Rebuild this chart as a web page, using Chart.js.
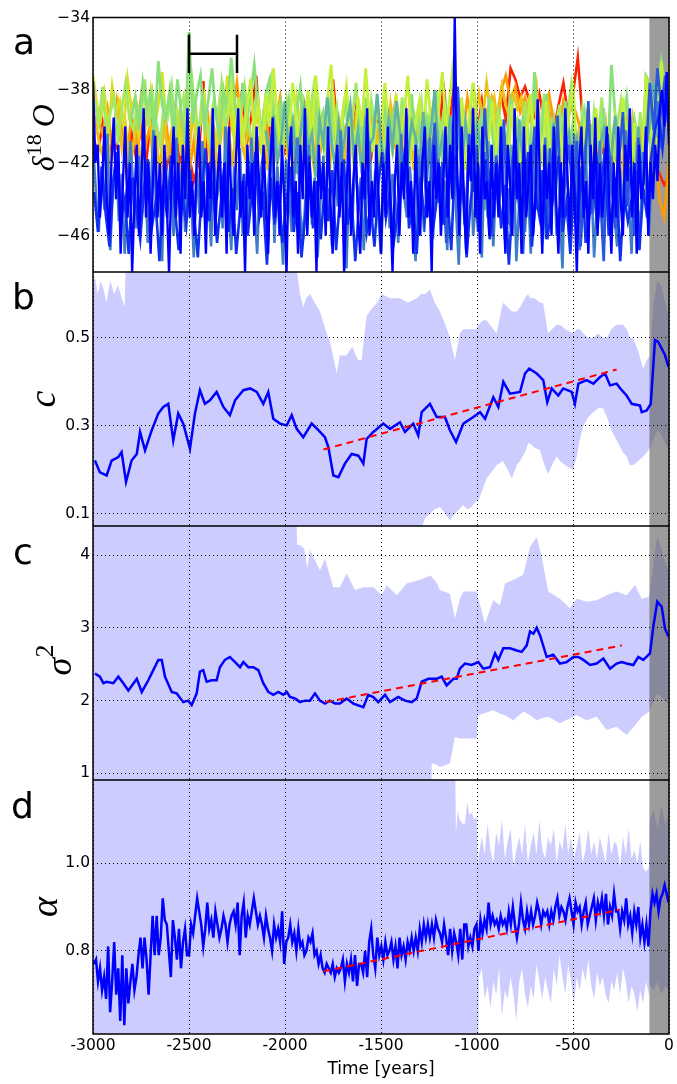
<!DOCTYPE html>
<html>
<head>
<meta charset="utf-8">
<title>Ice core indicators</title>
<script src="https://cdn.jsdelivr.net/npm/chart.js@4.4.1/dist/chart.umd.min.js"></script>
<style>
  html, body { margin: 0; padding: 0; background: #fff; }
  #page { position: relative; width: 677px; height: 1084px; overflow: hidden; }
  #page canvas { position: absolute; left: 0; }
  .panel-letter { position: absolute; font-family: 'DejaVu Sans'; font-size: 36px; line-height: 1; color: #000; }
</style>
</head>
<body>
<div id="page">
  <canvas id="pa" width="677" height="272" style="top:0px"></canvas>
  <canvas id="pb" width="677" height="254" style="top:272px"></canvas>
  <canvas id="pc" width="677" height="254" style="top:526px"></canvas>
  <canvas id="pd" width="677" height="304" style="top:780px"></canvas>
  <div class="panel-letter" style="left:13px;top:24px">a</div>
  <div class="panel-letter" style="left:12px;top:279px">b</div>
  <div class="panel-letter" style="left:13px;top:534px">c</div>
  <div class="panel-letter" style="left:11px;top:788px">d</div>
</div>
<script>
// x axis (years) and the shaded recent period
const xMin = -3000, xMax = 0, xStep = 500;
const grayStart = -102;

// ---- panel a: d18O records (start year, step in years, values) ----
const aRedStart = -3000, aRedStep = 25;
const aRed = [
  -40.5, -41.5, -39.8, -42, -40.8, -41.2, -39.5, -42.5, -40.2, -41.8,
  -40, -42.2, -39.6, -41, -40.4, -42.8, -41.3, -39.2, -42, -40.6,
  -41.5, -43, -42, -37.5, -43.5, -40.8, -42.4, -39, -41.6, -37.8,
  -40.2, -38.2, -41, -39.4, -37.2, -40.6, -41.8, -39.6, -40.4, -38.6,
  -41.2, -39.8, -40.6, -42, -39.2, -40.8, -38.8, -41.4, -39.6, -40.2,
  -37.4, -40.4, -41.6, -39.8, -40.8, -38.6, -41.2, -40, -41.6, -39.4,
  -40.6, -42, -39.4, -41, -40.2, -38.8, -41.4, -40.4, -39.6, -41.8,
  -40.2, -39, -41.2, -37.6, -40.4, -38.2, -41, -39.8, -40.6, -39.2,
  -40.4, -38.6, -41, -39.4, -40.6, -38.2, -39.6, -36.8, -37.4, -38.4,
  -37.8, -38.6, -39.4, -38.2, -39.8, -39.2, -40.2, -38.8, -37.6, -39.4,
  -38.2, -36.2, -39.6, -40.4, -41, -39.8, -41.4, -40.6, -42, -41.2,
  -40.4, -41.8, -40.6, -42.4, -41, -39.8, -40.4, -42, -42.6, -43.2,
  -42.8
];
const aOrangeStart = -3000, aOrangeStep = 25;
const aOrange = [
  -37.8, -39.6, -40.4, -39, -41.2, -38.6, -40, -42, -39.4, -40.8,
  -38.4, -41, -39.8, -40.6, -42.4, -39.2, -41.6, -40.2, -43, -41.4,
  -42.6, -40.8, -43.2, -41.4, -39.6, -42, -40.4, -38.2, -41, -39.6,
  -37.6, -40.2, -39, -41.4, -38.8, -40.6, -39.4, -41.8, -40, -38.4,
  -40.8, -39.4, -41.6, -40.2, -38.8, -40.6, -39.2, -41.2, -40, -39.6,
  -38.2, -40.6, -39.8, -41.2, -40.4, -39, -40.8, -41.6, -39.4, -40.2,
  -41, -39.6, -40.4, -38.6, -40.8, -41.4, -39.8, -40.6, -39.2, -41.2,
  -40, -38.8, -40.6, -39.4, -41, -40.2, -39.6, -40.8, -38.4, -40,
  -39.6, -40.8, -39.2, -38.4, -40.2, -38, -37.2, -38.6, -37.8, -39.2,
  -38.4, -39.6, -38.8, -40.2, -39, -38.2, -39.8, -40.4, -38.6, -39.4,
  -38.8, -39.6, -40.6, -39.2, -40.8, -41.4, -40, -41.2, -40.6, -41.8,
  -40.8, -39.6, -41.4, -40.2, -42, -41, -40.4, -39.8, -44, -45,
  -42
];
const aGoldStart = -2990, aGoldStep = 20;
const aGold = [
  -39.4, -40.8, -41.6, -39.8, -42.2, -40.4, -38.8, -41.2, -40, -42.6,
  -41, -39.6, -42.4, -40.2, -38.6, -41.8, -40.6, -43, -39.8, -41.4,
  -40.2, -42, -39.2, -41.6, -43.2, -40.4, -38.4, -41, -42.6, -39.6,
  -41.8, -40, -42.8, -39.4, -41.2, -40.6, -42.2, -38.8, -40.8, -41.6,
  -39.6, -42, -40.4, -41.2, -39, -42.4, -40.8, -41.6, -39.8, -40.2,
  -41.4, -39.4, -42.6, -40.2, -41, -38.6, -40.8, -42.2, -39.6, -41.2,
  -40.4, -42.8, -39.8, -41.4, -40, -42, -39.2, -40.8, -41.8, -39.6,
  -42.2, -40.6, -41.2, -39.4, -42.6, -40.2, -41.6, -38.8, -40.4, -42,
  -39.8, -41.4, -40, -42.4, -39.2, -41, -43, -40.6, -39.4, -41.8,
  -40.4, -41.6, -39.8, -42.2, -40.6, -41.2, -39.4, -42, -40.8, -39.6,
  -38.2, -39.6, -37.6, -39.2, -38.4, -40, -37.8, -38.8, -39.6, -38.2,
  -39, -38.4, -40.2, -38.6, -39.4, -37.8, -40.4, -39.2, -38.6, -40.8,
  -41.6, -40.2, -42.2, -39.6, -41, -42.6, -40.4, -41.8, -39.4, -42,
  -40.6, -42.4, -41, -39.8, -42.8, -40.4, -41.6, -43.2, -40, -41.4,
  -39.6, -41.8, -40.2, -42, -44.6, -40.6, -41.4, -39, -40.4, -39.8
];
const aYellowStart = -3000, aYellowStep = 20;
const aYellow = [
  -37.2, -38.8, -39.6, -38.2, -40.4, -37.8, -39.2, -38.6, -40, -37.4,
  -39, -38.4, -40.6, -37.6, -39.4, -38, -40.2, -38.8, -37, -39.6,
  -38.2, -40.8, -39.4, -41.6, -38.6, -40.2, -39, -41.2, -39.8, -38.4,
  -40.6, -39.2, -41.4, -38.8, -40, -37.2, -39.6, -41, -38.4, -40.4,
  -39, -37.8, -40.2, -38.6, -41, -39.4, -38, -40.6, -39.2, -38.8,
  -40.4, -39.6, -41.2, -38.4, -40, -39.2, -40.8, -38.8, -39.8, -41,
  -39.4, -40.2, -38.6, -40.8, -39.6, -41.4, -40, -39.2, -40.6, -39.8,
  -40.2
];
const aLimeStart = -2990, aLimeStep = 20;
const aLime = [
  -38.6, -39.8, -37.8, -40.4, -39.2, -38.4, -40.8, -39, -37.6, -39.6,
  -40.2, -38.8, -39.4, -37.4, -40, -38.2, -39.8, -41, -38.6, -39.4,
  -37.8, -40.6, -39.2, -38.4, -40.2, -36.8, -39, -40.4, -38.2, -39.6,
  -40.8, -38.6, -39.4, -37.6, -40, -39.2, -38, -40.6, -39.4, -37.8,
  -39.8, -41, -38.4, -39.6, -40.4, -38.8, -37.4, -40.2, -39, -41.2,
  -38.6, -40, -39.4, -41.4, -38.2, -40.6, -39.2, -37.8, -40.8, -39.6,
  -41.2, -38.8, -40.4, -39, -41.6, -38.4, -40.2, -39.6, -37.6, -40.8,
  -39.4, -41.4, -38.6, -40.2, -39.8, -42, -38.8, -40.6, -39.2, -41,
  -38.4, -40.6, -41.8, -39.2, -40, -38.6, -41.2, -39.6, -40.8, -38,
  -40.4, -39, -41.6, -40.2, -38.8, -41, -39.4, -42.2, -40, -38.6,
  -41.4, -39.8, -40.6, -38.4, -41.8, -39.2, -40.4, -42, -38.8, -40.2,
  -39.6, -41.2, -38.6, -40.8, -42.4, -39.4, -40, -38.2, -41.6, -39.8,
  -40.6, -38.8, -41.4, -39.6, -37.8, -40.2, -41.8, -39, -40.4, -42,
  -39.2, -40.8, -38.4, -41.2, -39.8, -42.2, -40, -38.6, -41, -39.4,
  -40.6, -42.4, -39.2, -40.8, -38.2, -41.4, -39.6, -37.8, -38.6, -39.8
];
const aGreenStart = -2800, aGreenStep = 20;
const aGreen = [
  -39.6, -38.4, -40.2, -37.6, -39, -38.2, -40.6, -36.4, -38.8, -39.6,
  -38, -40.4, -37.4, -39.2, -41, -34.8, -39.8, -38.2, -37.2, -40,
  -38.6, -36.8, -39.4, -40.6, -38, -39.2, -36.2, -38.8, -40.2, -37.6,
  -39.8, -38.4, -36.6, -39, -40.4, -38.2, -37.4, -39.6, -41, -38.8,
  -40.2, -38.6, -41.4, -39.2, -37.8, -40.8, -39.4, -41.6, -38.4, -40,
  -39.2, -41, -38.6, -40.4, -42, -39.6, -38.2, -40.8, -41.6, -39,
  -40.6, -38.4, -41.2, -39.8, -42.4, -40.2, -38.8, -41, -39.4, -40.6,
  -41.8, -39.2, -40.4, -38.2, -41.6, -40, -42.2, -39.6, -40.8, -38.6,
  -40.4, -41.8, -39, -40.6, -42, -38.4, -40.2, -41.4, -39.6, -37.6,
  -40.8, -39.4, -41.6, -38.8, -40.2, -42.4, -39.6, -41, -40.4, -38.6,
  -40, -41.8, -39.4, -42.2, -40.6, -37, -41.4, -40.2, -38.2, -41,
  -39.6, -42, -40.8, -38.6, -41.2, -39.8, -42.6, -40.4, -39.2, -41.6,
  -40, -40.2, -41.4, -39, -42, -36.6, -39.4, -41.8, -40, -38.4,
  -41.2, -39.6, -40.8, -42.2, -37.2, -37.6, -40.4, -38.2, -36.4, -37.8,
  -39
];
const aYGreenStart = -2300, aYGreenStep = 20;
const aYGreen = [
  -39.4, -37.8, -40.6, -38.4, -41, -39.2, -37.4, -40.2, -38.8, -41.6,
  -38.2, -40, -36.8, -39.6, -41.4, -38.6, -40.8, -37.6, -39.8, -42,
  -40.4, -38, -41.2, -37.2, -39.4, -40.8, -38.6, -36.6, -40, -41.8,
  -39.2, -37.8, -40.6, -42.2, -38.4, -40, -36.8, -39.6, -41.4, -38.8,
  -40.4, -37.6, -39.8, -41.6, -38.2, -40.6, -39.4, -37.2, -41, -39.8,
  -38.6, -40.8, -37.4, -39.6, -42, -38.8, -37, -40.4, -38.2, -36.2,
  -40.6, -38.4, -42.4, -39.2, -37.6, -41, -43.8, -39.6, -40.8, -38.6,
  -41.2, -39.6, -40.4, -42.6, -38.8, -41.4, -39.8, -44, -40.2, -38.2,
  -41.6, -40, -42.2, -38.6, -41, -43.4, -39.6, -40.8, -42.8, -39.2,
  -37.8, -41.4, -43, -39.8, -40.6, -42.4, -39, -41.2, -44.4, -40.2,
  -42, -39.6, -41.4, -38.4, -40.8, -43.2, -39.8, -41.6, -42.4, -37.2,
  -40.6, -38.4, -41.2, -36.4, -39.8, -38.2
];
const aTealStart = -2100, aTealStep = 20;
const aTeal = [
  -40.2, -41.6, -39.4, -42, -40.8, -38.6, -41.4, -39.8, -42.6, -40.4,
  -39, -41.2, -40.4, -42.8, -39.6, -41, -38.4, -40.6, -42.2, -39.8,
  -41.4, -40, -38.8, -41.8, -40.2, -42.6, -39.4, -41, -40.6, -38.2,
  -40.8, -42.4, -39.6, -41.2, -38.6, -40.4, -43, -41.6, -39.8, -40.6,
  -42, -39.2, -41.4, -40.2, -38, -41.8, -40.6, -42.8, -39.4, -41,
  -40.4, -42.2, -39.8, -41.6, -43.4, -40, -41.2, -44.6, -40.8, -42.4,
  -41.8, -43.6, -40.4, -42.8, -41, -44.2, -39.6, -42, -43.8, -41.2,
  -40.6, -42.4, -44, -41.2, -43.2, -39.8, -42.6, -45, -41.6, -40.4,
  -42.2, -40.8, -43.6, -41.4, -39.6, -42.8, -44.6, -41, -40.2, -43.4,
  -41.6, -39.4, -42.4, -44, -40.8, -41.8, -43.2, -40, -42.6, -41.4,
  -39.8, -37.6, -40.6, -38.4, -39.2, -40
];
const aSteelStart = -3000, aSteelStep = 15;
const aSteel = [
  -41, -43.6, -45.8, -42.2, -44.6, -40.4, -46.8, -43, -41.8, -45.2,
  -42.6, -47, -44, -40.8, -43.4, -45.6, -41.6, -44.8, -42, -46.4,
  -43.8, -40.2, -45, -42.8, -47.4, -41.4, -44.2, -43, -46, -40.6,
  -44.4, -42, -45.8, -41, -43.6, -47.2, -42.4, -44.8, -40.8, -45.4,
  -43.2, -46.6, -41.8, -44, -42.6, -45.6, -40, -43.8, -46.8, -42.2,
  -44.6, -41.2, -46, -43.4, -45, -40.6, -44.2, -47, -42.8, -41.6,
  -45.2, -43, -40.4, -46.4, -42.2, -44.6, -47.6, -41.8, -43.6, -45.8,
  -42.4, -40.6, -44.8, -46.2, -43.2, -41, -45.4, -42.8, -47.2, -44,
  -41.6, -45, -43.4, -46.6, -42, -44.4, -40.2, -43.8, -47.8, -42.6,
  -45.6, -41.4, -44.2, -42.8, -46.8, -43.6, -40.8, -45.2, -42.4, -44.8,
  -47, -43, -41.2, -45.6, -42.6, -44, -46.4, -40.4, -43.8, -45,
  -42.2, -44.6, -47.4, -41.6, -43.4, -45.8, -42.8, -40.6, -46.2, -43.6,
  -41.8, -45.2, -43, -46.8, -42.4, -39.8, -44.4, -47.6, -42, -45.4,
  -43.2, -40.8, -46, -44, -42.2, -47.2, -41.4, -45, -43.6, -46.6,
  -42.6, -44.8, -40.2, -46.2, -43.4, -45.6, -41.6, -47.4, -44.2, -42,
  -45.8, -43, -47, -41.2, -44.6, -42.4, -46.4, -40.6, -45.2, -43.8,
  -42.2, -46, -44.4, -47.8, -41.8, -43.6, -45.4, -40.4, -44, -46.8,
  -43.2, -41, -45.6, -42.8, -47.2, -44.2, -40.8, -46.2, -43, -45,
  -41.6, -44.8, -46.6, -42.4, -45.2, -40.2, -43.8, -47, -42.2, -44.4,
  -45.6, -41.4, -43.2, -46, -42.6, -40.4, -38.6, -41.2, -39.4, -37.8,
  -40.6
];
const aRoyalStart = -1300, aRoyalStep = 20;
const aRoyal = [
  -43.4, -41.2, -45, -42.6, -39.8, -44.2, -42, -46.4, -41.4, -43.8,
  -37.8, -42.6, -45.2, -40.4, -43.6, -41, -44.8, -39, -42.4, -46,
  -41.6, -43.8, -39.6, -45.4, -42.2, -40.6, -44, -47, -41.8, -43.2,
  -40, -44.6, -42.4, -46.2, -41.2, -43.8, -39.4, -45, -42.8, -41,
  -44.2, -40.8, -46.6, -42.6, -38.6, -44.8, -41.4, -43.4, -47.4, -40.4,
  -43, -45.6, -41.8, -39.2, -44.4, -42.2, -46, -40.6, -43.6, -41.6,
  -37.6, -40.2, -36.8, -39, -37.2, -40.4
];
const aNavyStart = -2994, aNavyStep = 20;
const aNavy = [
  -43.6, -45.8, -42.2, -44.8, -46.6, -43, -41.4, -45.2, -44, -47,
  -42.8, -44.6, -46.2, -43.4, -41.8, -45.6, -44.2, -47.4, -43.2, -45,
  -41.6, -44.4, -46.8, -43.8, -45.4, -42.4, -44.8, -47.2, -43.6, -41.2,
  -45.2, -43, -46.4, -44.2, -42, -45.8, -43.4, -47, -44.6, -42.6,
  -46, -43.8, -41.4, -45, -44, -47.6, -42.8, -45.4, -43.2, -46.4,
  -44.4, -42.2, -45.8, -43.6, -47.2, -44.8, -41.6, -45.6, -43, -46.2,
  -43.4, -45.2, -42.4, -46.8, -44, -41.8, -45.4, -43.8, -47.4, -44.2,
  -42.6, -45.8, -44.4, -46.6, -43.2, -41.4, -45, -43.6, -46.4, -44.8,
  -43, -41.2, -45.6, -44, -47, -42.8, -45.2, -43.4, -46, -44.4,
  -42.2, -45.4, -43.8, -46.8, -41.6, -44.6, -43, -47.2, -44.2, -42.4,
  -45.8, -43.6, -41.8, -46.2, -44.4, -42.6, -45.6, -43.2, -47.6, -44,
  -42.8, -45.2, -44, -41.4, -46.6, -43.8, -45, -42.4, -46.2, -44.6,
  -43.4, -41.6, -45.8, -44.2, -47, -43, -45.4, -42.2, -46.4, -44.8,
  -42.6, -45.6, -43.6, -41.2, -46, -44.4, -42.8, -47.4, -43.8, -45.2,
  -44, -42.4, -46.8, -43.4, -45, -41.8, -40.2, -39.4, -41.2, -38.8
];
const aBlueStart = -3000, aBlueStep = 12;
const aBlue = [
  -37.5, -42, -41, -45, -43, -40, -44, -46, -42, -39.5, -44, -41, -47, -43, -40, -45, -42, -48, -44, -41, -46, -43, -39, -45, -42,
  -47, -43, -40.5, -45, -42, -46, -41, -44, -48, -43, -40, -45, -42, -47, -41, -44, -39, -45, -43, -46, -42, -40, -45, -43, -47,
  -42, -44, -39, -46, -43, -41, -45, -42, -47, -40, -44, -46, -42, -39, -45, -43, -48, -41, -44, -42, -46, -40, -43, -45, -41,
  -44, -47, -42, -39.5, -45, -43, -46, -41, -44, -48, -42, -40, -45, -43, -47, -41, -44, -39, -46, -42, -45, -43, -48, -41, -44,
  -42, -46, -40, -44, -47, -43, -41, -45, -42, -48, -44, -40, -46, -43, -41, -45, -47, -42, -44, -39, -46, -43, -45, -41, -44,
  -47, -42, -45, -40, -44, -48, -43, -41, -46, -42, -44, -39, -45, -43, -47, -41, -44, -46, -42, -40, -45, -43, -48, -41, -44,
  -42, -46, -43, -40, -45, -41, -44, -34, -42, -46, -40, -44, -47, -41, -43, -39, -45, -42, -47, -40, -44, -43, -46, -41, -45,
  -42, -45, -40, -44, -47, -41, -43, -46, -39, -44, -42, -47, -40, -45, -43, -41, -46, -44, -38.5, -43, -47, -41, -44, -42, -46,
  -40, -44, -47, -42, -45, -39, -43, -46, -41, -44, -48, -42, -40, -45, -43, -47, -41, -44, -39.5, -46, -42, -45, -43, -40, -44,
  -47, -42, -45, -40, -44, -46, -41, -43, -39, -45, -42, -47, -41, -44, -43, -40, -46, -42, -44, -41, -43, -39, -38, -40, -37,
  -41
];
// scale bar drawn in panel a
const barYears = [-2500, -2250];
const barLevel = -36, barTop = -34.95, barBottom = -37.05;

// ---- panel b: c ----
const bLineYears = [-2990, -2964, -2929, -2903, -2868, -2851, -2828, -2799, -2772, -2755, -2729, -2694, -2660, -2634, -2608, -2582, -2556, -2530, -2495, -2469, -2443, -2417, -2391, -2356, -2321, -2287, -2260, -2217, -2182, -2147, -2113, -2087, -2061, -2026, -1991, -1965, -1939, -1905, -1861, -1826, -1792, -1774, -1748, -1722, -1688, -1653, -1618, -1592, -1575, -1540, -1488, -1453, -1401, -1375, -1332, -1306, -1288, -1245, -1210, -1167, -1141, -1109, -1071, -1019, -984, -958, -915, -889, -863, -828, -776, -750, -728, -689, -655, -634, -611, -577, -551, -507, -490, -472, -429, -394, -359, -333, -307, -273, -246, -221, -194, -151, -142, -116, -95, -73, -56, -21, -3];
const bLine = [0.221, 0.194, 0.187, 0.221, 0.229, 0.24, 0.172, 0.221, 0.236, 0.286, 0.244, 0.29, 0.328, 0.343, 0.35, 0.267, 0.328, 0.305, 0.248, 0.328, 0.381, 0.35, 0.358, 0.377, 0.343, 0.324, 0.358, 0.381, 0.385, 0.377, 0.35, 0.377, 0.316, 0.305, 0.301, 0.324, 0.293, 0.274, 0.305, 0.29, 0.274, 0.251, 0.187, 0.183, 0.214, 0.236, 0.232, 0.214, 0.27, 0.286, 0.305, 0.293, 0.308, 0.286, 0.305, 0.278, 0.331, 0.35, 0.32, 0.32, 0.29, 0.263, 0.305, 0.32, 0.331, 0.316, 0.365, 0.343, 0.4, 0.373, 0.377, 0.419, 0.43, 0.419, 0.404, 0.354, 0.385, 0.369, 0.385, 0.377, 0.35, 0.396, 0.404, 0.396, 0.411, 0.419, 0.392, 0.396, 0.381, 0.369, 0.35, 0.346, 0.331, 0.335, 0.35, 0.495, 0.491, 0.461, 0.434];
const bTrendYears = [-1800, -273];
const bTrend = [0.246, 0.428];
const bEnvYears = [-3000, -2990, -2975, -2960, -2945, -2930, -2910, -2890, -2870, -2850, -2835, -2823, -1945, -1940, -1922, -1905, -1890, -1870, -1845, -1818, -1790, -1766, -1745, -1731, -1714, -1680, -1650, -1620, -1601, -1575, -1542, -1520, -1496, -1453, -1401, -1360, -1314, -1290, -1288, -1270, -1245, -1220, -1193, -1165, -1141, -1115, -1089, -1073, -1050, -1028, -1002, -993, -967, -950, -915, -898, -865, -840, -819, -793, -776, -750, -734, -724, -700, -672, -656, -630, -610, -585, -568, -540, -500, -480, -464, -446, -420, -396, -370, -344, -323, -300, -276, -240, -220, -203, -188, -160, -135, -115, -99, -80, -62, -40, -20, -5, 0];
const bUpper = [0.62, 0.64, 0.60, 0.63, 0.61, 0.58, 0.63, 0.60, 0.62, 0.59, 0.57, 0.8, 0.8, 0.66, 0.60, 0.57, 0.59, 0.60, 0.58, 0.56, 0.52, 0.49, 0.45, 0.42, 0.46, 0.46, 0.48, 0.45, 0.45, 0.55, 0.57, 0.58, 0.60, 0.59, 0.59, 0.58, 0.59, 0.60, 0.60, 0.60, 0.61, 0.58, 0.56, 0.53, 0.50, 0.45, 0.51, 0.52, 0.52, 0.52, 0.52, 0.53, 0.54, 0.54, 0.52, 0.51, 0.58, 0.57, 0.56, 0.56, 0.57, 0.59, 0.60, 0.59, 0.59, 0.58, 0.58, 0.51, 0.52, 0.53, 0.53, 0.52, 0.51, 0.52, 0.52, 0.51, 0.50, 0.50, 0.51, 0.50, 0.50, 0.52, 0.53, 0.53, 0.52, 0.50, 0.50, 0.47, 0.43, 0.45, 0.46, 0.58, 0.63, 0.62, 0.58, 0.56, 0.55];
const bLower = [0, 0, 0, 0, 0, 0, 0, 0, 0, 0, 0, 0, 0, 0, 0, 0, 0, 0, 0, 0, 0, 0, 0, 0, 0, 0, 0, 0, 0, 0, 0, 0, 0, 0, 0, 0, 0, 0, 0.07, 0.09, 0.10, 0.11, 0.115, 0.10, 0.085, 0.10, 0.112, 0.12, 0.11, 0.115, 0.13, 0.13, 0.16, 0.18, 0.20, 0.21, 0.22, 0.20, 0.18, 0.21, 0.22, 0.24, 0.26, 0.26, 0.25, 0.245, 0.22, 0.19, 0.21, 0.23, 0.22, 0.21, 0.20, 0.23, 0.27, 0.30, 0.32, 0.33, 0.34, 0.34, 0.32, 0.29, 0.27, 0.24, 0.23, 0.21, 0.21, 0.22, 0.23, 0.24, 0.25, 0.27, 0.29, 0.28, 0.26, 0.25, 0.25];

// ---- panel c: sigma^2 ----
const cLineYears = [-2990, -2964, -2946, -2929, -2894, -2868, -2842, -2816, -2772, -2746, -2712, -2686, -2660, -2642, -2625, -2590, -2564, -2530, -2504, -2486, -2460, -2443, -2426, -2408, -2382, -2356, -2339, -2313, -2287, -2260, -2234, -2217, -2191, -2165, -2139, -2113, -2087, -2061, -2035, -2009, -1991, -1974, -1948, -1922, -1896, -1870, -1844, -1818, -1792, -1766, -1740, -1714, -1679, -1644, -1592, -1566, -1540, -1514, -1479, -1453, -1410, -1375, -1340, -1314, -1288, -1253, -1210, -1184, -1158, -1123, -1106, -1089, -1063, -1028, -993, -967, -932, -906, -889, -863, -828, -793, -767, -741, -724, -706, -689, -672, -637, -603, -568, -533, -498, -472, -446, -411, -377, -342, -307, -273, -246, -221, -186, -160, -134, -99, -82, -61, -38, -21, -3];
const cLine = [2.374, 2.33, 2.24, 2.26, 2.24, 2.33, 2.24, 2.14, 2.3, 2.12, 2.28, 2.42, 2.56, 2.56, 2.33, 2.12, 2.1, 1.98, 2.0, 1.94, 2.1, 2.4, 2.42, 2.26, 2.28, 2.28, 2.46, 2.56, 2.6, 2.53, 2.46, 2.53, 2.46, 2.46, 2.42, 2.24, 2.12, 2.08, 2.12, 2.08, 2.12, 2.05, 2.03, 1.98, 2.0, 2.0, 2.1, 2.0, 1.96, 2.0, 1.96, 1.96, 2.03, 1.96, 1.91, 2.08, 2.05, 1.98, 2.08, 1.98, 2.05, 2.0, 1.98, 2.03, 2.26, 2.3, 2.3, 2.33, 2.21, 2.3, 2.3, 2.44, 2.51, 2.49, 2.53, 2.44, 2.46, 2.65, 2.56, 2.72, 2.72, 2.69, 2.67, 2.76, 2.95, 2.92, 3.0, 2.9, 2.6, 2.63, 2.51, 2.53, 2.6, 2.6, 2.56, 2.49, 2.51, 2.58, 2.44, 2.51, 2.53, 2.51, 2.49, 2.6, 2.56, 2.65, 3.01, 3.36, 3.29, 2.99, 2.88];
const cTrendYears = [-1790, -246];
const cTrend = [1.98, 2.76];
const cEnvYears = [-3000, -1945, -1937, -1922, -1900, -1884, -1870, -1844, -1818, -1792, -1774, -1748, -1714, -1679, -1636, -1592, -1540, -1496, -1470, -1418, -1366, -1297, -1240, -1236, -1210, -1193, -1160, -1141, -1115, -1089, -1071, -1037, -1002, -993, -958, -915, -880, -854, -811, -759, -724, -689, -663, -629, -568, -516, -481, -429, -377, -325, -273, -221, -177, -142, -103, -80, -62, -40, -20, 0];
const cUpper = [5, 5, 4.14, 4.14, 4.09, 3.82, 4.07, 3.93, 3.79, 3.95, 3.79, 3.56, 3.56, 3.75, 3.52, 3.56, 3.56, 3.45, 3.59, 3.45, 3.61, 3.66, 3.72, 3.70, 3.62, 3.52, 3.49, 3.47, 3.13, 3.40, 3.50, 3.50, 3.50, 3.40, 3.06, 3.38, 3.31, 3.61, 3.66, 3.73, 4.11, 4.25, 3.98, 3.50, 3.40, 3.27, 3.40, 3.36, 3.38, 3.45, 3.50, 3.45, 3.59, 3.40, 3.43, 3.90, 4.25, 4.10, 3.90, 3.79];
const cLower = [0, 0, 0, 0, 0, 0, 0, 0, 0, 0, 0, 0, 0, 0, 0, 0, 0, 0, 0, 0, 0, 0, 0, 1.14, 1.12, 1.09, 1.12, 1.14, 1.50, 1.48, 1.48, 1.48, 1.48, 1.80, 1.83, 1.87, 1.82, 1.80, 1.73, 1.85, 1.80, 1.73, 1.76, 1.78, 1.69, 1.76, 1.80, 1.73, 1.78, 1.60, 1.64, 1.53, 1.66, 1.78, 1.85, 2.0, 2.1, 2.05, 2.0, 1.95];

// ---- panel d: alpha ----
const dStart = -2995, dStep = 10.54;
const dLine = [
  0.77, 0.78, 0.73, 0.76, 0.71, 0.74, 0.69, 0.81, 0.66, 0.73,
  0.82, 0.70, 0.76, 0.64, 0.79, 0.63, 0.76, 0.68, 0.73, 0.77,
  0.71, 0.74, 0.79, 0.83, 0.76, 0.83, 0.78, 0.70, 0.79, 0.88,
  0.79, 0.88, 0.79, 0.83, 0.92, 0.87, 0.86, 0.80, 0.74, 0.87,
  0.83, 0.78, 0.85, 0.76, 0.82, 0.85, 0.79, 0.79, 0.86, 0.84,
  0.88, 0.92, 0.89, 0.86, 0.81, 0.85, 0.91, 0.85, 0.87, 0.83,
  0.89, 0.86, 0.83, 0.85, 0.88, 0.86, 0.82, 0.86, 0.88, 0.89,
  0.86, 0.91, 0.79, 0.88, 0.91, 0.83, 0.88, 0.86, 0.89, 0.92,
  0.89, 0.86, 0.88, 0.86, 0.83, 0.88, 0.85, 0.83, 0.80, 0.86,
  0.83, 0.85, 0.82, 0.89, 0.77, 0.82, 0.83, 0.86, 0.82, 0.84,
  0.80, 0.85, 0.81, 0.82, 0.79, 0.80, 0.83, 0.82, 0.84, 0.79,
  0.80, 0.77, 0.79, 0.76, 0.75, 0.77, 0.76, 0.75, 0.77, 0.74,
  0.76,
  0.75, 0.76, 0.78, 0.73, 0.77, 0.75, 0.78, 0.73, 0.79, 0.72,
  0.77, 0.77, 0.75, 0.80, 0.74, 0.82, 0.85, 0.79, 0.76, 0.83,
  0.79, 0.81, 0.78, 0.82, 0.79, 0.80, 0.82, 0.78, 0.81, 0.76,
  0.83, 0.79, 0.81, 0.78, 0.82, 0.80, 0.83, 0.80, 0.83, 0.80,
  0.85, 0.82, 0.86, 0.83, 0.86, 0.83, 0.86, 0.83, 0.87, 0.85,
  0.84, 0.82, 0.86, 0.83, 0.79, 0.85, 0.80, 0.84, 0.82, 0.79,
  0.85, 0.78, 0.86, 0.86, 0.81, 0.83, 0.81, 0.85, 0.86, 0.80,
  0.87, 0.84, 0.87, 0.85, 0.91, 0.86, 0.88, 0.86, 0.87, 0.85,
  0.88, 0.86, 0.87, 0.85, 0.89, 0.86, 0.90, 0.86, 0.83, 0.86,
  0.91, 0.87, 0.85, 0.89, 0.86, 0.89, 0.86, 0.88, 0.91, 0.89,
  0.86, 0.89, 0.88, 0.89, 0.86, 0.89, 0.87, 0.90, 0.92, 0.88,
  0.90, 0.89, 0.87, 0.90, 0.92, 0.89, 0.86, 0.91, 0.89, 0.90,
  0.86, 0.89, 0.91, 0.86, 0.88, 0.90, 0.92, 0.87, 0.91, 0.89,
  0.92, 0.88, 0.93, 0.86, 0.90, 0.88, 0.93, 0.89, 0.89, 0.85,
  0.89, 0.87, 0.92, 0.86, 0.88, 0.84, 0.89, 0.86, 0.90, 0.83,
  0.86, 0.82, 0.86, 0.81, 0.89, 0.93, 0.91, 0.93, 0.89, 0.92,
  0.93, 0.95, 0.93, 0.91
];
const dTrendYears = [-1800, -255];
const dTrend = [0.753, 0.894];
const dEnvYears = [-3000, -1120, -1110, -1100, -1090, -1075, -1063, -1050, -1040, -1028, -1015, -1002, -995, -990,
  -975, -960, -945, -930, -915, -900, -885, -870, -855, -840, -825, -810, -795, -780, -765, -750, -735, -720, -705, -690,
  -675, -660, -645, -630, -615, -600, -585, -570, -555, -540, -525, -510, -495, -480, -465, -450, -435, -420, -405, -390,
  -375, -360, -345, -330, -315, -300, -285, -270, -255, -240, -225, -210, -195, -180, -165, -150, -135, -120, -105,
  -100, -80, -60, -40, -20, 0];
const dUpper = [1.5, 1.5, 1.07, 1.12, 1.10, 1.09, 1.09, 1.14, 1.11, 1.115, 1.10, 1.107, 0.99, 1.02,
  1.06, 1.02, 1.09, 1.03, 1.00, 1.07, 1.04, 1.10, 1.01, 1.05, 1.08, 0.99, 1.03, 1.06, 1.02, 1.09, 1.00, 1.04, 1.07, 1.02,
  1.10, 1.03, 1.01, 1.06, 1.04, 1.08, 1.00, 1.05, 1.03, 1.09, 1.02, 1.06, 1.01, 1.04, 1.07, 1.00, 1.03, 1.08, 1.02, 1.05,
  1.01, 1.06, 1.03, 1.00, 1.07, 1.02, 1.05, 1.04, 0.99, 1.06, 1.02, 1.08, 1.01, 1.03, 1.00, 1.05, 0.99, 0.98, 0.99,
  1.10, 1.12, 1.08, 1.13, 1.09, 1.11];
const dLower = [0.5, 0.5, 0.5, 0.5, 0.5, 0.5, 0.5, 0.5, 0.5, 0.5, 0.5, 0.5, 0.5, 0.74,
  0.76, 0.69, 0.72, 0.67, 0.73, 0.70, 0.76, 0.65, 0.71, 0.69, 0.74, 0.70, 0.64, 0.73, 0.76, 0.70, 0.67, 0.72, 0.69, 0.77,
  0.73, 0.69, 0.74, 0.71, 0.68, 0.76, 0.72, 0.79, 0.74, 0.70, 0.77, 0.73, 0.68, 0.74, 0.71, 0.76, 0.73, 0.78, 0.72, 0.69,
  0.75, 0.72, 0.74, 0.70, 0.68, 0.73, 0.71, 0.75, 0.70, 0.76, 0.73, 0.68, 0.72, 0.70, 0.66, 0.71, 0.68, 0.73, 0.70,
  0.72, 0.71, 0.73, 0.70, 0.72, 0.71];

// ---- helpers ----
function series(start, step, vals) {
  return vals.map((v, i) => ({ x: start + i * step, y: v }));
}
function paired(years, vals) {
  return vals.map((v, i) => ({ x: years[i], y: v }));
}
function lineSet(data, color, width, order, extra) {
  return Object.assign({ data: data, borderColor: color, borderWidth: width, pointRadius: 0, fill: false, order: order, clip: 0 }, extra || {});
}
function band(years, upper, lower) {
  return [
    { data: paired(years, upper), borderWidth: 0, borderColor: 'rgba(0,0,0,0)', pointRadius: 0, backgroundColor: '#ccccff', fill: '+1', order: 20 },
    { data: paired(years, lower), borderWidth: 0, borderColor: 'rgba(0,0,0,0)', pointRadius: 0, fill: false, order: 19 }
  ];
}

// axis labels drawn rotated, pieces allow the superscripts
const yLabels = {
  pa: { x: 54, dy: -7, parts: [{ t: 'δ', s: 32, it: true }, { t: '18', s: 22, up: 13 }, { t: 'O', s: 32, it: true, gap: 7 }] },
  pb: { x: 55, dy: 0, parts: [{ t: 'c', s: 38, it: true }] },
  pc: { x: 71, dy: 7, parts: [{ t: 'σ', s: 36, it: true }, { t: '2', s: 26, up: 18 }] },
  pd: { x: 57, dy: 0, parts: [{ t: 'α', s: 38, it: true }] }
};
const grayAfter = { pa: -1, pb: 1, pc: 1, pd: 1 };

function drawGray(chart) {
  const { ctx, chartArea: a, scales: { x } } = chart;
  const gx = x.getPixelForValue(grayStart);
  ctx.save();
  ctx.fillStyle = 'rgba(90,90,90,0.6)';
  ctx.fillRect(gx, a.top, a.right - gx, a.bottom - a.top);
  ctx.restore();
}

const decor = {
  id: 'decor',
  beforeDatasetsDraw(chart) {
    if (grayAfter[chart.canvas.id] === -1) drawGray(chart);
  },
  afterDatasetDraw(chart, args) {
    if (grayAfter[chart.canvas.id] === args.index) drawGray(chart);
  },
  afterDraw(chart) {
    const { ctx, chartArea: a } = chart;
    ctx.save();
    ctx.strokeStyle = '#000';
    ctx.lineWidth = 1.5;
    ctx.strokeRect(a.left, a.top, a.right - a.left, a.bottom - a.top);
    ctx.restore();

    const lab = yLabels[chart.canvas.id];
    ctx.save();
    ctx.translate(lab.x, (a.top + a.bottom) / 2 + lab.dy);
    ctx.rotate(-Math.PI / 2);
    ctx.fillStyle = '#000';
    ctx.textBaseline = 'alphabetic';
    const fonts = lab.parts.map(p => (p.it ? 'italic ' : '') + p.s + 'px "Liberation Serif"');
    let total = 0;
    lab.parts.forEach((p, i) => { ctx.font = fonts[i]; total += ctx.measureText(p.t).width + (p.gap || 0); });
    let px = -total / 2;
    lab.parts.forEach((p, i) => {
      ctx.font = fonts[i];
      px += p.gap || 0;
      ctx.fillText(p.t, px, -(p.up || 0));
      px += ctx.measureText(p.t).width;
    });
    ctx.restore();
  }
};

function makePanel(id, cfg) {
  const bottom = !!cfg.bottom;
  const tickFont = { family: 'DejaVu Sans', size: 15.5 };
  return new Chart(document.getElementById(id), {
    type: 'line',
    data: { datasets: cfg.datasets },
    options: {
      responsive: false,
      animation: false,
      devicePixelRatio: 1,
      layout: { padding: { top: cfg.padTop || 0, right: 8, left: 0, bottom: 0 } },
      elements: { line: { tension: 0 }, point: { radius: 0 } },
      plugins: { legend: { display: false }, tooltip: { enabled: false } },
      scales: {
        x: {
          type: 'linear', min: xMin, max: xMax,
          grid: { color: '#000', lineWidth: 1, drawTicks: false, z: 1 },
          border: { display: false, dash: [1, 3] },
          ticks: { display: bottom, stepSize: xStep, padding: 3, color: '#000', font: tickFont, maxRotation: 0, autoSkip: false, callback: v => String(v) },
          title: { display: bottom, text: 'Time [years]', color: '#000', font: { family: 'DejaVu Sans', size: 17 }, padding: { top: 0, bottom: 4 } },
          afterFit: s => { s.height = bottom ? 50 : 0; s.paddingLeft = 0; s.paddingRight = 0; }
        },
        y: {
          min: cfg.min, max: cfg.max,
          grid: { color: '#000', lineWidth: 1, drawTicks: false, z: 1 },
          border: { display: false, dash: [1, 3] },
          ticks: { color: '#000', font: tickFont, padding: 3, callback: cfg.fmt },
          afterBuildTicks: s => { s.ticks = cfg.ticks.map(v => ({ value: v })); },
          afterFit: s => { s.width = 93; s.paddingTop = 0; s.paddingBottom = 0; }
        }
      }
    },
    plugins: [decor]
  });
}

Chart.defaults.font.family = 'DejaVu Sans';
Chart.defaults.color = '#000';

// panel a
makePanel('pa', {
  min: -48, max: -34, ticks: [-46, -42, -38, -34], padTop: 17.5,
  fmt: v => '\u2212' + Math.abs(v),
  datasets: [
    lineSet([
      { x: barYears[0], y: barTop }, { x: barYears[0], y: barBottom }, { x: barYears[0], y: null },
      { x: barYears[0], y: barLevel }, { x: barYears[1], y: barLevel }, { x: barYears[1], y: null },
      { x: barYears[1], y: barTop }, { x: barYears[1], y: barBottom }
    ], '#000', 2.5, 0),
    lineSet(series(aBlueStart, aBlueStep, aBlue), '#0000ff', 2.4, 1),
    lineSet(series(aNavyStart, aNavyStep, aNavy), '#1030f0', 2.6, 2),
    lineSet(series(aRoyalStart, aRoyalStep, aRoyal), '#2a55dc', 2.6, 3),
    lineSet(series(aSteelStart, aSteelStep, aSteel), '#3f7ec6', 2.6, 4),
    lineSet(series(aTealStart, aTealStep, aTeal), '#62b4a2', 2.8, 5),
    lineSet(series(aYGreenStart, aYGreenStep, aYGreen), '#c4f03c', 2.8, 6),
    lineSet(series(aGreenStart, aGreenStep, aGreen), '#8ae07c', 2.8, 7),
    lineSet(series(aLimeStart, aLimeStep, aLime), '#a4e866', 2.8, 8),
    lineSet(series(aYellowStart, aYellowStep, aYellow), '#d8e024', 2.8, 9),
    lineSet(series(aGoldStart, aGoldStep, aGold), '#ecc21a', 2.8, 10),
    lineSet(series(aOrangeStart, aOrangeStep, aOrange), '#ff9a00', 2.8, 11),
    lineSet(series(aRedStart, aRedStep, aRed), '#ff2200', 2.6, 12)
  ]
});

// panel b
makePanel('pb', {
  min: 0.072, max: 0.65, ticks: [0.1, 0.3, 0.5],
  fmt: v => v.toFixed(1),
  datasets: band(bEnvYears, bUpper, bLower).concat([
    lineSet(paired(bLineYears, bLine), '#0000ff', 2.5, 2),
    lineSet(paired(bTrendYears, bTrend), '#ff0000', 2, 1, { borderDash: [7, 5] })
  ])
});

// panel c
makePanel('pc', {
  min: 0.91, max: 4.4, ticks: [1, 2, 3, 4],
  fmt: v => String(v),
  datasets: band(cEnvYears, cUpper, cLower).concat([
    lineSet(paired(cLineYears, cLine), '#0000ff', 2.5, 2),
    lineSet(paired(cTrendYears, cTrend), '#ff0000', 2, 1, { borderDash: [7, 5] })
  ])
});

// panel d
makePanel('pd', {
  min: 0.61, max: 1.19, ticks: [0.8, 1.0], bottom: true,
  fmt: v => v.toFixed(1),
  datasets: band(dEnvYears, dUpper, dLower).concat([
    lineSet(series(dStart, dStep, dLine), '#0000ff', 2.5, 2),
    lineSet(paired(dTrendYears, dTrend), '#ff0000', 2, 1, { borderDash: [7, 5] })
  ])
});
</script>
</body>
</html>
